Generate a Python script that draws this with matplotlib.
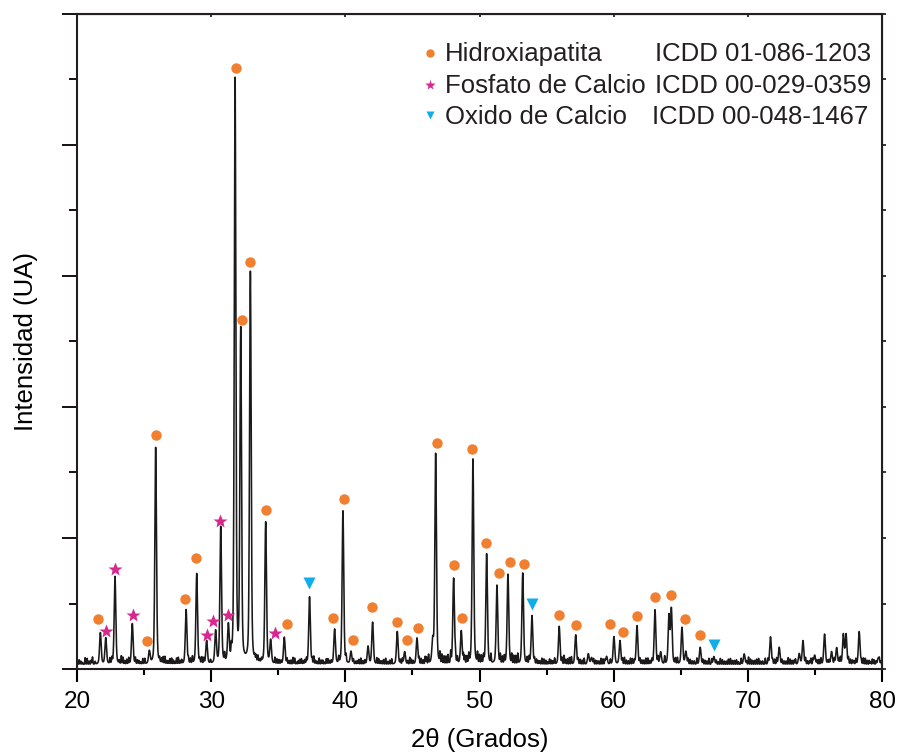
import numpy as np
import matplotlib
matplotlib.use('Agg')
import matplotlib.pyplot as plt

plt.rcParams['font.family'] = ['Liberation Sans', 'DejaVu Sans']

# XRD peaks: position (2theta) and top height
peak_pos = [21.74, 22.14, 22.83, 24.12, 25.39, 25.86, 28.13, 28.92, 29.66, 30.33,
            30.71, 31.28, 31.78, 32.20, 32.92, 34.06, 34.43, 35.45, 37.33, 39.20,
            39.82, 40.42, 41.69, 42.03, 43.87, 44.42, 45.34, 46.51, 46.73, 48.07,
            48.64, 49.51, 50.53, 51.30, 52.12, 53.22, 53.91, 55.94, 57.17, 58.11,
            58.35, 59.47, 60.02, 60.47, 61.74, 63.08, 63.50, 64.12, 64.30, 65.09,
            65.38, 66.45, 67.47, 69.73, 71.69, 72.34, 73.83, 74.11, 74.98, 75.72,
            76.24, 76.62, 77.12, 77.32, 78.30, 79.72]
peak_top = [0.55, 0.47, 1.41, 0.69, 0.26, 3.38, 0.90, 1.45, 0.42, 0.56,
            2.15, 0.62, 8.97, 5.12, 6.04, 2.23, 0.42, 0.48, 1.10, 0.60,
            2.41, 0.26, 0.34, 0.71, 0.57, 0.26, 0.47, 0.40, 3.28, 1.38,
            0.57, 3.20, 1.75, 1.27, 1.44, 1.46, 0.81, 0.65, 0.52, 0.23,
            0.17, 0.19, 0.49, 0.43, 0.66, 0.90, 0.25, 0.80, 0.90, 0.63,
            0.26, 0.33, 0.19, 0.23, 0.49, 0.33, 0.23, 0.43, 0.21, 0.53,
            0.26, 0.32, 0.52, 0.52, 0.57, 0.17]

# small bumps of the noisy baseline
noise_pos = [20.15, 20.4, 20.6, 20.9, 21.15, 21.35, 22.45, 23.3, 23.55, 23.85,
             24.5, 24.75, 25.05, 26.3, 26.55, 26.8, 27.05, 27.3, 27.55, 27.8,
             28.45, 29.3, 29.95, 31.0, 33.35, 33.6, 34.75, 35.05, 35.8, 36.1,
             36.35, 36.6, 36.85, 37.1, 37.65, 37.9, 38.2, 38.45, 38.7, 38.95,
             40.05, 40.75, 41.0, 41.3, 42.35, 42.6, 42.85, 43.15, 43.45, 44.1,
             44.8, 45.05, 45.65, 45.95, 46.2, 47.05, 47.35, 47.65, 47.85, 48.35,
             48.9, 49.2, 49.85, 50.15, 50.85, 51.7, 52.55, 52.85, 53.55, 54.25,
             54.5, 54.8, 55.1, 55.35, 55.6, 56.3, 56.55, 56.85, 57.5, 57.8,
             58.65, 58.9, 59.2, 59.75, 60.8, 61.1, 61.4, 62.1, 62.4, 62.7,
             63.8, 64.6, 65.7, 66.0, 66.8, 67.1, 67.8, 68.1, 68.4, 68.7,
             69.0, 69.3, 70.05, 70.35, 70.65, 70.95, 71.3, 72.0, 72.7, 73.0,
             73.3, 73.55, 74.45, 74.7, 75.3, 75.95, 76.9, 77.65, 77.9, 78.6,
             78.9, 79.15, 79.4, 79.9]
noise_top = [0.14, 0.10, 0.17, 0.12, 0.18, 0.11, 0.15, 0.19, 0.12, 0.16,
             0.13, 0.10, 0.15, 0.14, 0.18, 0.12, 0.16, 0.11, 0.17, 0.13,
             0.14, 0.16, 0.12, 0.18, 0.15, 0.11, 0.16, 0.13, 0.12, 0.17,
             0.10, 0.14, 0.12, 0.15, 0.18, 0.11, 0.13, 0.10, 0.15, 0.12,
             0.17, 0.11, 0.14, 0.12, 0.16, 0.12, 0.14, 0.11, 0.15, 0.13,
             0.17, 0.12, 0.15, 0.18, 0.20, 0.22, 0.18, 0.20, 0.24, 0.16,
             0.18, 0.20, 0.22, 0.18, 0.20, 0.17, 0.19, 0.22, 0.16, 0.14,
             0.12, 0.15, 0.11, 0.13, 0.16, 0.20, 0.15, 0.18, 0.14, 0.16,
             0.13, 0.12, 0.15, 0.14, 0.17, 0.12, 0.15, 0.13, 0.16, 0.12,
             0.18, 0.15, 0.14, 0.12, 0.13, 0.16, 0.11, 0.14, 0.12, 0.16,
             0.13, 0.11, 0.18, 0.13, 0.15, 0.12, 0.16, 0.14, 0.12, 0.17,
             0.13, 0.15, 0.12, 0.16, 0.14, 0.12, 0.17, 0.14, 0.12, 0.16,
             0.13, 0.11, 0.14, 0.12]
# second, finer set of baseline wiggles between the ones above
noise2_pos = [20.28, 20.75, 21.05, 22.6, 23.15, 23.42, 23.7, 24.35, 24.62, 24.9,
              26.15, 26.42, 26.68, 26.92, 27.18, 27.42, 27.68, 28.3, 28.6, 29.15,
              29.45, 31.5, 33.25, 33.48, 33.75, 34.9, 35.2, 35.65, 35.95, 36.22,
              36.48, 36.72, 36.98, 37.52, 37.78, 38.05, 38.32, 38.58, 38.82, 39.5,
              40.6, 40.88, 41.15, 41.45, 42.48, 42.72, 43.0, 43.3, 44.25, 44.65,
              44.92, 45.5, 45.8, 46.05, 47.2, 47.5, 48.2, 48.8, 49.05, 50.0,
              50.3, 51.55, 51.85, 52.4, 52.7, 53.7, 54.1, 54.38, 54.65, 54.95,
              55.22, 55.48, 56.15, 56.42, 56.7, 57.35, 57.65, 58.5, 58.78, 59.05,
              59.35, 60.65, 60.95, 61.25, 61.55, 61.95, 62.25, 62.55, 62.85, 63.3,
              64.75, 65.55, 65.85, 66.2, 66.65, 66.95, 67.3, 67.65, 67.95, 68.25,
              68.55, 68.85, 69.15, 69.5, 69.9, 70.2, 70.5, 70.8, 71.1, 71.5,
              71.85, 72.15, 72.55, 72.85, 73.15, 73.45, 74.3, 74.6, 74.85, 75.15,
              75.45, 76.05, 76.45, 76.8, 77.5, 77.8, 78.05, 78.45, 78.75, 79.05,
              79.28, 79.55, 79.8]
noise2_top = [0.12, 0.16, 0.13, 0.15, 0.12, 0.17, 0.14, 0.16, 0.12, 0.15,
              0.13, 0.17, 0.12, 0.15, 0.13, 0.16, 0.12, 0.14, 0.17, 0.13,
              0.15, 0.20, 0.13, 0.16, 0.12, 0.14, 0.12, 0.15, 0.13, 0.16,
              0.12, 0.15, 0.13, 0.14, 0.12, 0.16, 0.13, 0.15, 0.12, 0.16,
              0.14, 0.12, 0.16, 0.13, 0.15, 0.12, 0.16, 0.13, 0.15, 0.12,
              0.14, 0.16, 0.13, 0.17, 0.20, 0.18, 0.19, 0.20, 0.17, 0.19,
              0.18, 0.20, 0.18, 0.21, 0.19, 0.17, 0.15, 0.12, 0.16, 0.13,
              0.15, 0.12, 0.16, 0.14, 0.17, 0.15, 0.13, 0.15, 0.12, 0.16,
              0.13, 0.15, 0.13, 0.16, 0.12, 0.15, 0.13, 0.16, 0.14, 0.17,
              0.16, 0.15, 0.12, 0.16, 0.14, 0.12, 0.15, 0.13, 0.16, 0.12,
              0.15, 0.13, 0.14, 0.16, 0.12, 0.15, 0.13, 0.16, 0.12, 0.15,
              0.13, 0.16, 0.14, 0.12, 0.15, 0.13, 0.16, 0.12, 0.15, 0.13,
              0.16, 0.13, 0.15, 0.14, 0.16, 0.13, 0.15, 0.12, 0.16, 0.13,
              0.15, 0.12, 0.14]

# phase markers (x, y)
hap_x = [21.54, 25.19, 25.86, 28.05, 28.84, 31.83, 32.32, 32.92, 34.06, 35.63,
         39.06, 39.92, 40.59, 42.00, 43.82, 44.56, 45.38, 46.80, 48.12, 48.69,
         49.41, 50.48, 51.42, 52.27, 53.34, 55.92, 57.19, 59.73, 60.67, 61.74,
         63.08, 64.27, 65.28, 66.45]
hap_y = [0.76, 0.43, 3.58, 1.07, 1.69, 9.18, 5.33, 6.21, 2.42, 0.68,
         0.78, 2.60, 0.44, 0.94, 0.71, 0.44, 0.62, 3.45, 1.59, 0.78,
         3.36, 1.93, 1.47, 1.63, 1.61, 0.83, 0.67, 0.68, 0.57, 0.81,
         1.10, 1.13, 0.76, 0.52]
fos_x = [22.16, 22.83, 24.14, 29.66, 30.16, 30.68, 31.28, 34.78]
fos_y = [0.58, 1.53, 0.83, 0.52, 0.74, 2.26, 0.82, 0.55]
oxi_x = [37.31, 53.91, 67.47]
oxi_y = [1.32, 1.00, 0.36]

legend_names = ['Hidroxiapatita', 'Fosfato de Calcio', 'Oxido de Calcio']
legend_codes = ['ICDD 01-086-1203', 'ICDD 00-029-0359', 'ICDD 00-048-1467']

c_hap = '#F07F2F'
c_fos = '#D8288F'
c_oxi = '#0FAEEA'

base = 0.07


def pvoigt(x, x0, amp, fwhm, eta=0.35):
    s = fwhm / 2.3548
    g = np.exp(-0.5 * ((x - x0) / s) ** 2)
    l = 1.0 / (1.0 + ((x - x0) / (fwhm / 2)) ** 2)
    return amp * ((1 - eta) * g + eta * l)


tt = np.arange(20.0, 80.0001, 0.01)
yy = np.full_like(tt, base)
for p, h in zip(peak_pos, peak_top):
    yy += pvoigt(tt, p, h - base, 0.14)
for p, h in zip(noise_pos + noise2_pos, noise_top + noise2_top):
    yy += pvoigt(tt, p, h - base, 0.06, eta=0.0)

fig = plt.figure(figsize=(9, 7.55), dpi=100)
ax = fig.add_axes([0.0856, 0.1139, 0.8944, 0.8676])

ax.plot(tt, yy, color='#1a1a1a', lw=1.15)

ax.plot(hap_x, hap_y, 'o', color=c_hap, ms=7.5, mec='none')
ax.plot(fos_x, fos_y, '*', color=c_fos, ms=10, mec='none')
ax.plot(oxi_x, oxi_y, 'v', color=c_oxi, ms=8, mec='none')

ax.set_xlim(20, 80)
ax.set_ylim(0, 10)
ax.set_xticks(np.arange(20, 81, 10))
ax.set_xticks(np.arange(25, 80, 10), minor=True)
ax.set_yticks(np.arange(0, 11, 2))
ax.set_yticks(np.arange(1, 10, 2), minor=True)
ax.tick_params(axis='x', which='major', direction='out', length=9.5, width=1.5, labelsize=17.5, pad=6)
ax.tick_params(axis='x', which='minor', direction='out', length=4.5, width=1.5)
ax.tick_params(axis='y', which='major', direction='out', length=11, width=1.3, labelleft=False)
ax.tick_params(axis='y', which='minor', direction='out', length=6, width=1.3)
for s in ax.spines.values():
    s.set_linewidth(1.5)
    s.set_color('#231f20')

# small ticks on the right and top spines
axr = ax.secondary_yaxis('right')
axr.set_yticks(np.arange(0, 11, 1))
axr.tick_params(direction='out', length=3, width=1.1, labelright=False)
axt = ax.secondary_xaxis('top')
axt.set_xticks(np.arange(20, 81, 10))
axt.tick_params(direction='in', length=2, width=1.1, labeltop=False)

ax.set_xlabel('2θ (Grados)', fontsize=18.5, labelpad=11)
ax.set_ylabel('Intensidad (UA)', fontsize=18.5, labelpad=17)

# legend drawn by hand, as in the original
leg_marks = [('o', c_hap, 6), ('*', c_fos, 8), ('v', c_oxi, 6)]
mark_y = [0.9399, 0.8916, 0.8458]
text_y = [0.9287, 0.8800, 0.8320]
code_x = [0.718, 0.718, 0.714]
for i in range(3):
    m, c, ms = leg_marks[i]
    ax.plot([0.4385], [mark_y[i]], m, color=c, ms=ms, mec='none', transform=ax.transAxes)
    ax.text(0.457, text_y[i], legend_names[i], transform=ax.transAxes,
            fontsize=18.5, va='baseline', ha='left', color='#231f20')
    ax.text(code_x[i], text_y[i], legend_codes[i], transform=ax.transAxes,
            fontsize=18.5, va='baseline', ha='left', color='#231f20')

plt.savefig('out.png', dpi=100)
